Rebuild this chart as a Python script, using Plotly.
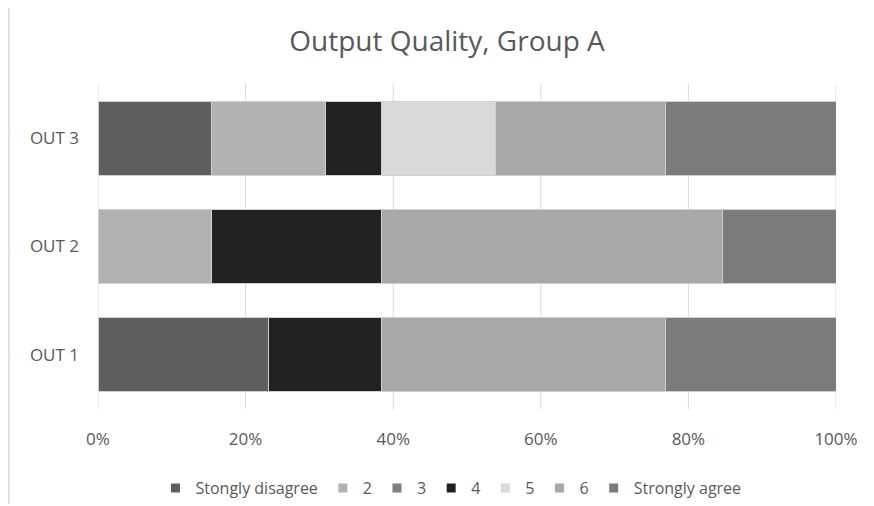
import plotly.graph_objects as go

categories = ["OUT 1", "OUT 2", "OUT 3"]
series_names = ["Stongly disagree", "2", "3", "4", "5", "6", "Strongly agree"]
# response counts per category (OUT 1, OUT 2, OUT 3)
strongly_disagree = [3, 0, 2]
resp_2 = [0, 2, 2]
resp_3 = [0, 0, 0]
resp_4 = [2, 3, 1]
resp_5 = [0, 0, 2]
resp_6 = [5, 6, 3]
strongly_agree = [3, 2, 3]
x_tick_values = [0, 0.2, 0.4, 0.6, 0.8, 1.0]

values = [strongly_disagree, resp_2, resp_3, resp_4, resp_5, resp_6, strongly_agree]
colors = ["#5f5f5f", "#b2b2b2", "#7f7f7f", "#222222", "#d9d9d9", "#a8a8a8", "#7b7b7b"]

FONT = "'Open Sans', Lato, sans-serif"
L, R, T, B = 98, 38, 84, 97
PW, PH = 874 - L - R, 506 - T - B

fig = go.Figure()
for name, vals, col in zip(series_names, values, colors):
    fig.add_trace(go.Bar(
        y=categories, x=vals, name=name, orientation="h",
        marker=dict(color=col, line=dict(color="#d0d0d0", width=1)),
        showlegend=False,
    ))
# legend entries with small square symbols
for name, col in zip(series_names, colors):
    fig.add_trace(go.Scatter(
        x=[None], y=[None], mode="markers", name=name,
        marker=dict(symbol="square", size=9, color=col),
        showlegend=True,
    ))

for tv in x_tick_values:
    fig.add_vline(x=tv, line=dict(color="#d9d9d9", width=1), layer="below")

fig.update_layout(
    width=874, height=506,
    barmode="stack", barnorm="fraction", bargap=0.318,
    paper_bgcolor="white", plot_bgcolor="white",
    margin=dict(l=L, r=R, t=T, b=B, autoexpand=False),
    font=dict(family=FONT, color="#595959", size=16),
    title=dict(text="Output Quality, Group A", xref="container", x=447 / 874,
               xanchor="center", yref="container", y=1 - 41 / 506, yanchor="middle",
               font=dict(size=28, color="#595959", family=FONT)),
    xaxis=dict(range=[0, 1], tickvals=x_tick_values, tickformat=".0%",
               showgrid=False, zeroline=False, showline=False, ticks="",
               ticklabelstandoff=18, automargin=False, fixedrange=True,
               tickfont=dict(size=17, color="#595959")),
    yaxis=dict(showgrid=False, zeroline=False, showline=False, ticks="",
               ticklabelstandoff=18, automargin=False, fixedrange=True,
               tickfont=dict(size=17, color="#595959")),
    legend=dict(orientation="h", x=(451 - L) / PW, xanchor="center",
                y=(409 - 488) / PH, yanchor="middle", traceorder="normal",
                itemwidth=30, tracegroupgap=0,
                font=dict(size=16, color="#595959")),
    showlegend=True,
)

fig.add_shape(type="line", xref="paper", yref="paper",
              x0=(9 - L) / PW, x1=(9 - L) / PW,
              y0=(409 - 8) / PH, y1=(409 - 504) / PH,
              line=dict(color="#d9d9d9", width=1.5))

fig.write_html("out.html", config={"displayModeBar": False},
               post_script="document.body.style.margin='0';document.body.style.padding='0';")
